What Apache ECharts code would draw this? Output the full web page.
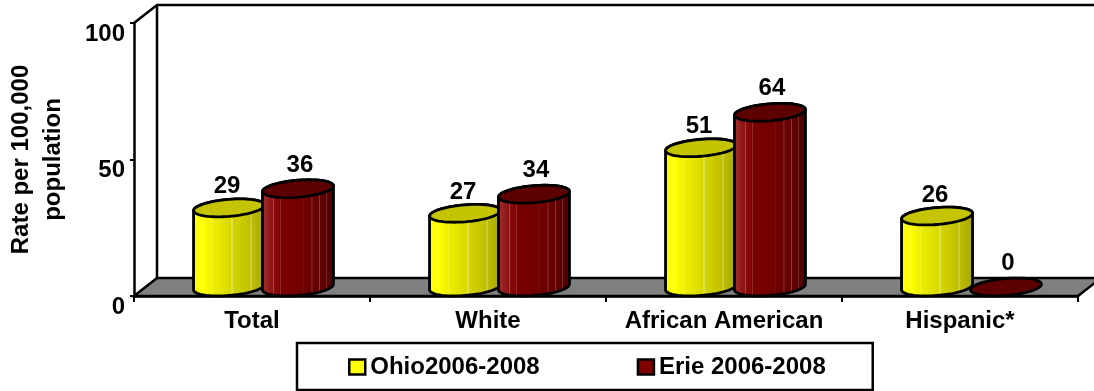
<!DOCTYPE html>
<html><head><meta charset="utf-8">
<style>html,body{margin:0;padding:0;background:#fff}#c{width:1094px;height:391px}</style>
<script src="https://cdn.jsdelivr.net/npm/echarts@6/dist/echarts.min.js"></script>
</head><body><div id="c"></div>
<script>
const categories = ['Total', 'White', 'African American', 'Hispanic*'];
const ohio = [29, 27, 51, 26];
const erie = [36, 34, 64, 0];
const yTicks = [0, 50, 100];

const FONT = '"Liberation Sans", Arial, sans-serif';
const DEPTH_X = 23, DEPTH_Y = 18;
const stripes = (marks) => ({ type: 'linear', x: 0, y: 0, x2: 1, y2: 0, colorStops: marks });
const yellowBody = stripes([
  {offset:0,color:'#ffff00'},{offset:.14,color:'#ffff10'},{offset:.15,color:'#ffff50'},{offset:.16,color:'#fbfb00'},
  {offset:.27,color:'#f0f000'},{offset:.28,color:'#f6f640'},{offset:.29,color:'#eeee00'},
  {offset:.52,color:'#d8d800'},{offset:.54,color:'#e6e670'},{offset:.56,color:'#d4d400'},
  {offset:.78,color:'#c0c000'},{offset:.80,color:'#d0d060'},{offset:.82,color:'#bcbc00'},
  {offset:1,color:'#a4a400'}]);
const redBody = stripes([
  {offset:0,color:'#a83838'},{offset:.08,color:'#962222'},{offset:.16,color:'#8a1010'},{offset:.17,color:'#b05050'},{offset:.18,color:'#860a0a'},
  {offset:.25,color:'#800404'},{offset:.26,color:'#a04040'},{offset:.27,color:'#7c0000'},
  {offset:.56,color:'#700000'},{offset:.57,color:'#7c1c1c'},{offset:.58,color:'#700000'},
  {offset:.68,color:'#6a0000'},{offset:.69,color:'#985050'},{offset:.70,color:'#680000'},
  {offset:.78,color:'#640000'},{offset:.79,color:'#8c4848'},{offset:.80,color:'#620000'},
  {offset:.88,color:'#5c0000'},{offset:.89,color:'#804040'},{offset:.90,color:'#5a0000'},
  {offset:1,color:'#480000'}]);

function ellipsePts(cx, cy, rx, ry, tilt, a0, a1, n) {
  const pts = [];
  for (let i = 0; i <= n; i++) {
    const t = a0 + (a1 - a0) * i / n;
    pts.push([cx + rx * Math.cos(t), cy + ry * Math.sin(t) - tilt * Math.cos(t)]);
  }
  return pts;
}
function cylinder(side, bodyFill, topFill, labelLift, labelShift) {
  return function (params, api) {
    const v = api.value(1);
    const base = api.coord([api.value(0), 0]);
    const top = api.coord([api.value(0), v]);
    const w = api.size([1, 0])[0];
    const cx = base[0] + DEPTH_X / 2 + side * w * 0.146;
    const by = base[1] - DEPTH_Y / 2, ty = top[1] - DEPTH_Y / 2;
    const rx = 35.5, ry = 8.5, tilt = 2.8, lw = 2.8;
    const children = [];
    if (v > 0) {
      const lower = ellipsePts(cx, by, rx, ry, tilt, 0, Math.PI, 40);
      const upper = ellipsePts(cx, ty, rx, ry, tilt, Math.PI, 2 * Math.PI, 40);
      children.push({ type: 'polygon', shape: { points: lower.concat(upper) },
        style: { fill: bodyFill, stroke: '#000', lineWidth: lw } });
    }
    children.push({ type: 'polygon', shape: { points: ellipsePts(cx, ty, rx, ry, tilt, 0, 2 * Math.PI, 60) },
      style: { fill: topFill, stroke: '#000', lineWidth: lw } });
    children.push({ type: 'text', x: cx + labelShift, y: ty - labelLift,
      style: { text: String(v), fill: '#000', font: 'bold 24px ' + FONT, align: 'center', verticalAlign: 'middle' } });
    return { type: 'group', children };
  };
}
function frame(params, api) {
  const r = params.coordSys;
  const l = r.x, b = r.y + r.height, t = r.y, right = r.x + r.width;
  const bl = { stroke: '#000', lineWidth: 2.5, fill: 'none' };
  return { type: 'group', children: [
    { type: 'polygon', shape: { points: [[l, b], [l + DEPTH_X, b - DEPTH_Y], [right + DEPTH_X, b - DEPTH_Y], [right, b]] },
      style: { fill: '#808080', stroke: '#000', lineWidth: 2.5 } },
    { type: 'polyline', shape: { points: [[l, t], [l + DEPTH_X, t - DEPTH_Y], [right + DEPTH_X, t - DEPTH_Y]] }, style: bl },
    { type: 'line', shape: { x1: l + DEPTH_X, y1: t - DEPTH_Y, x2: l + DEPTH_X, y2: b - DEPTH_Y }, style: bl }
  ]};
}

const chart = echarts.init(document.getElementById('c'), null, { renderer: 'canvas' });
chart.setOption({
  animation: false,
  backgroundColor: '#fff',
  textStyle: { fontFamily: FONT },
  grid: { left: 134, right: 16, top: 23, bottom: 95, containLabel: false, outerBoundsMode: 'none' },
  xAxis: { type: 'category', data: categories,
    axisLine: { onZero: false, lineStyle: { color: '#000', width: 2.5 } },
    axisTick: { show: true, length: 6, lineStyle: { color: '#000', width: 2 } },
    axisLabel: { color: '#000', fontWeight: 'bold', fontSize: 24, fontFamily: FONT, margin: 13, interval: 0 },
    splitLine: { show: false } },
  yAxis: { type: 'value', min: 0, max: 100, interval: 50,
    name: 'Rate per 100,000\npopulation', nameLocation: 'center', nameRotate: 90, nameGap: 65,
    nameTextStyle: { color: '#000', fontWeight: 'bold', fontSize: 24, lineHeight: 32, fontFamily: FONT },
    axisLine: { show: true, lineStyle: { color: '#000', width: 2.5 } },
    axisTick: { show: true, length: 4, lineStyle: { color: '#000', width: 2 } },
    axisLabel: { color: '#000', fontWeight: 'bold', fontSize: 24, fontFamily: FONT, margin: 9, verticalAlign: 'top', lineHeight: 22,
      formatter: v => yTicks.includes(v) ? String(v) : '' },
    splitLine: { show: false } },
  legend: { left: 297, top: 343, orient: 'horizontal', itemWidth: 16, itemHeight: 15, itemGap: 97,
    padding: [12, 47, 11, 51], backgroundColor: '#fff', borderColor: '#000', borderWidth: 2.5, borderRadius: 0,
    icon: 'rect', selectedMode: false,
    textStyle: { color: '#000', fontWeight: 'bold', fontSize: 24, fontFamily: FONT },
    data: [{ name: 'Ohio2006-2008', itemStyle: { color: '#ffff00', borderColor: '#000', borderWidth: 2.5 } },
           { name: 'Erie 2006-2008', itemStyle: { color: '#800000', borderColor: '#000', borderWidth: 2.5 } }] },
  series: [
    { type: 'custom', name: 'frame', z: 0, silent: true, clip: false, renderItem: frame, data: [[0, 0]], encode: { x: 0, y: 1 } },
    { type: 'custom', name: 'Ohio2006-2008', z: 2, clip: false, itemStyle: { color: '#ffff00' },
      renderItem: cylinder(-1, yellowBody, '#c4c400', 21, -2), encode: { x: 0, y: 1 },
      data: ohio.map((v, i) => [i, v]) },
    { type: 'custom', name: 'Erie 2006-2008', z: 3, clip: false, itemStyle: { color: '#800000' },
      renderItem: cylinder(1, redBody, '#5c0000', 23.5, 2), encode: { x: 0, y: 1 },
      data: erie.map((v, i) => [i, v]) }
  ]
});
</script></body></html>
